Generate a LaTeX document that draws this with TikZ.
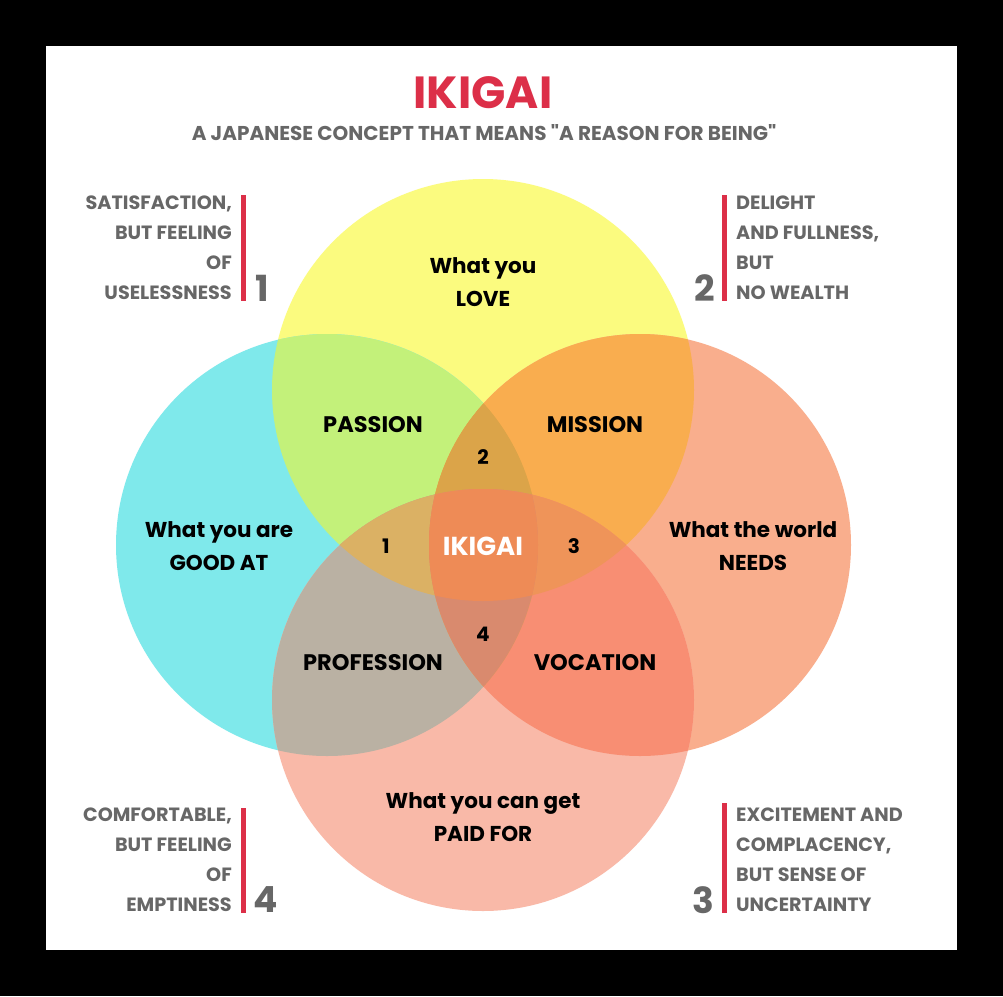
\documentclass[tikz,border=0pt]{standalone}
\usepackage{fontspec}
\setmainfont{Poppins}[Ligatures=TeXOff]
\definecolor{colY}{HTML}{FBFB7F}
\definecolor{colC}{HTML}{7FE9EB}
\definecolor{colR}{HTML}{F9AE8D}
\definecolor{colB}{HTML}{F9B9A8}
\definecolor{colYC}{HTML}{C3F17A}
\definecolor{colYR}{HTML}{F9AD4F}
\definecolor{colCB}{HTML}{BAB1A3}
\definecolor{colRB}{HTML}{F88E73}
\definecolor{colYCR}{HTML}{DBA449}
\definecolor{colYCB}{HTML}{DBB164}
\definecolor{colYRB}{HTML}{EF9459}
\definecolor{colCRB}{HTML}{D98A6E}
\definecolor{colAll}{HTML}{EE8B56}
\definecolor{ikired}{HTML}{DC2F48}
\definecolor{ikigray}{HTML}{676767}
\tikzset{
  lbl/.style={font=\bfseries\fontsize{21.5}{33}\selectfont, text=black, align=center, inner sep=0pt},
  sect/.style={font=\bfseries\fontsize{22.5}{24}\selectfont, text=black, inner sep=0pt},
  num/.style={font=\bfseries\fontsize{20}{22}\selectfont, text=black, inner sep=0pt},
  cornerR/.style={font=\bfseries\fontsize{19.2}{30}\selectfont, text=ikigray, align=right, inner sep=0pt, anchor=north east},
  cornerL/.style={font=\bfseries\fontsize{19.2}{30}\selectfont, text=ikigray, align=left, inner sep=0pt, anchor=north west},
  bignum/.style={font=\bfseries\fontsize{36}{38}\selectfont, text=ikigray, inner sep=0pt},
  bar/.style={ikired, line width=5pt}
}
\def\cY{(483,390) circle (211)}
\def\cC{(327,545) circle (211)}
\def\cR{(640,545) circle (211)}
\def\cB{(483,700) circle (211)}
\begin{document}
\begin{tikzpicture}[x=1pt,y=-1pt]
\useasboundingbox (0,0) rectangle (1003,996);
\fill[black] (0,0) rectangle (1003,996);
\fill[white] (46,46) rectangle (957,950);
% circles
\fill[colY] \cY;
\fill[colC] \cC;
\fill[colR] \cR;
\fill[colB] \cB;
\begin{scope}\clip \cY; \fill[colYC] \cC; \fill[colYR] \cR; \fill[colAll] \cB; \end{scope}
\begin{scope}\clip \cB; \fill[colCB] \cC; \fill[colRB] \cR; \end{scope}
\begin{scope}\clip \cC; \fill[colYCR] \cR; \end{scope}
\begin{scope}\clip \cY; \clip \cC; \fill[colYCR] \cR; \fill[colYCB] \cB; \end{scope}
\begin{scope}\clip \cY; \clip \cR; \fill[colYRB] \cB; \end{scope}
\begin{scope}\clip \cC; \clip \cR; \fill[colCRB] \cB; \end{scope}
\begin{scope}\clip \cY; \clip \cC; \clip \cR; \fill[colAll] \cB; \end{scope}
% title
\node[font=\bfseries\fontsize{45}{45}\selectfont, text=ikired, inner sep=0pt] (title) at (483,93) {IKIGAI};
\node[font=\bfseries\fontsize{20}{22}\selectfont, text=ikigray, inner sep=0pt] (sub) at (484,133) {A JAPANESE CONCEPT THAT MEANS "A REASON FOR BEING"};
% circle labels
\node[lbl] (love) at (483,282) {What you\\LOVE};
\node[lbl] (good) at (219,546) {What you are\\GOOD AT};
\node[lbl] (needs) at (753,546) {What the world\\NEEDS};
\node[lbl] (paid) at (483,817) {What you can get\\PAID FOR};
\node[sect] (passion) at (373,425) {PASSION};
\node[sect] (mission) at (595,425) {MISSION};
\node[sect] (profession) at (373,663) {PROFESSION};
\node[sect] (vocation) at (595,663) {VOCATION};
\node[num] (n2) at (483,457) {2};
\node[num] (n1) at (386,546) {1};
\node[num] (n3) at (574,546) {3};
\node[num] (n4) at (483,634) {4};
\node[font=\bfseries\fontsize{26}{28}\selectfont, text=white, inner sep=0pt] (center) at (483,546) {IKIGAI};
% corners
\node[cornerR] (t1) at (232,196) {SATISFACTION,\\BUT FEELING\\OF\\USELESSNESS};
\draw[bar] (243.5,195) -- (243.5,301);
\node[bignum] (b1) at (262,288) {1};
\node[cornerL] (t2) at (736,196) {DELIGHT\\AND FULLNESS,\\BUT\\NO WEALTH};
\draw[bar] (724.5,195) -- (724.5,301);
\node[bignum] (b2) at (705,288) {2};
\node[cornerR] (t4) at (232,808) {COMFORTABLE,\\BUT FEELING\\OF\\EMPTINESS};
\draw[bar] (243.5,808) -- (243.5,913);
\node[bignum] (b4) at (266,900) {4};
\node[cornerL] (t3) at (736,808) {EXCITEMENT AND\\COMPLACENCY,\\BUT SENSE OF\\UNCERTAINTY};
\draw[bar] (724.5,803) -- (724.5,913);
\node[bignum] (b3) at (703,900) {3};
\end{tikzpicture}
\end{document}
